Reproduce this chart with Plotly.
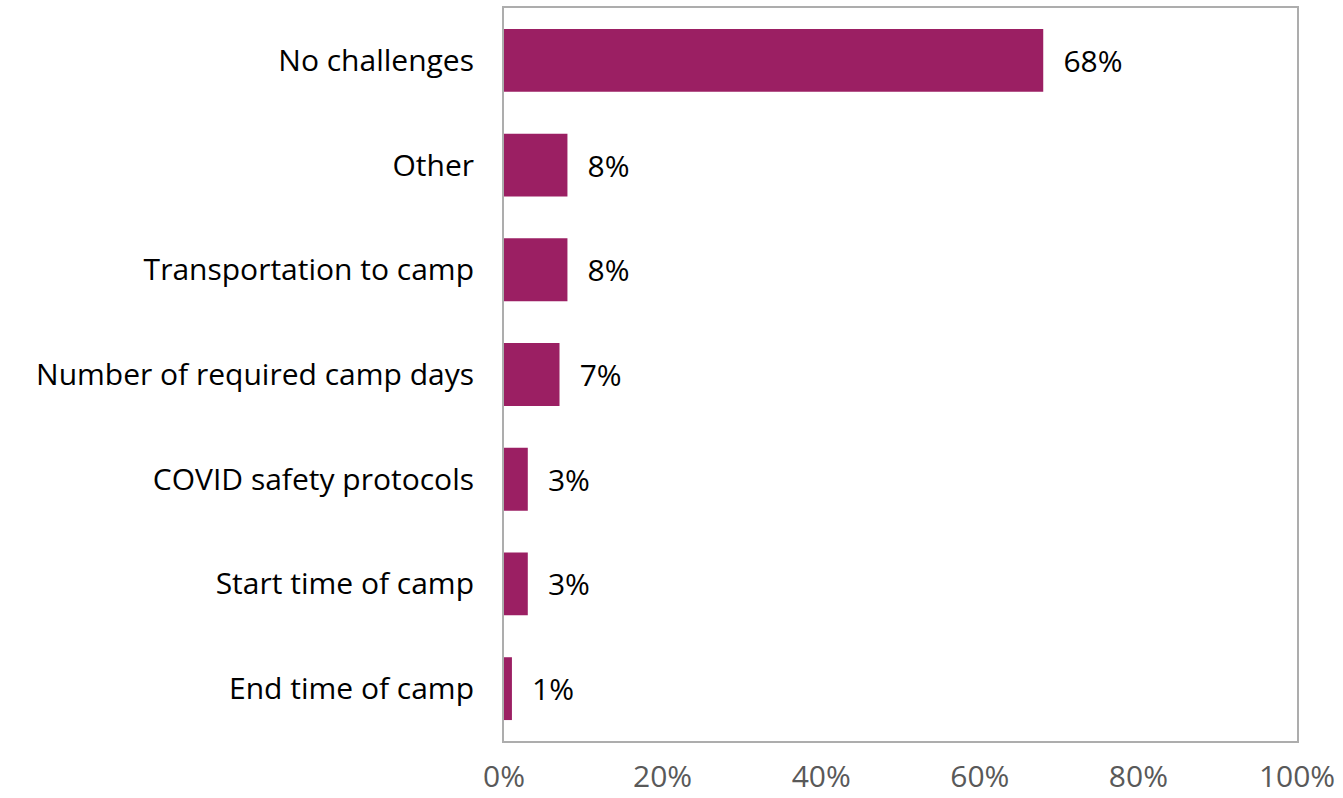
import plotly.graph_objects as go

# Reported challenges with camp participation (share of respondents)
categories = [
    "No challenges",
    "Other",
    "Transportation to camp",
    "Number of required camp days",
    "COVID safety protocols",
    "Start time of camp",
    "End time of camp",
]
values = [68, 8, 8, 7, 3, 3, 1]
tick_vals = [0, 20, 40, 60, 80, 100]
tick_text = ["0%", "20%", "40%", "60%", "80%", "100%"]

BAR_COLOR = "#9B1F63"
FONT = "Open Sans"
SIZE = 30

fig = go.Figure(
    go.Bar(
        x=values,
        y=categories,
        orientation="h",
        marker=dict(color=BAR_COLOR, line=dict(width=0)),
        width=0.6,
        text=[f"\u2007{v}%" for v in values],
        textposition="outside",
        cliponaxis=False,
        textfont=dict(family=FONT, size=SIZE, color="#000000"),
    )
)

fig.update_layout(
    width=1343,
    height=798,
    margin=dict(l=504, r=46, t=8, b=57),
    plot_bgcolor="white",
    paper_bgcolor="white",
    showlegend=False,
    font=dict(family=FONT, size=SIZE, color="#000000"),
)

fig.update_xaxes(
    range=[0, 100],
    tickvals=tick_vals,
    ticktext=tick_text,
    tickfont=dict(family=FONT, size=SIZE, color="#595959"),
    showgrid=False,
    zeroline=False,
    showline=True,
    linecolor="#ADADAD",
    linewidth=2,
    mirror=True,
    ticks="",
    ticklabelstandoff=8,
    automargin=False,
)

fig.update_yaxes(
    autorange="reversed",
    tickfont=dict(family=FONT, size=SIZE, color="#000000"),
    showgrid=False,
    zeroline=False,
    showline=True,
    linecolor="#ADADAD",
    linewidth=2,
    mirror=True,
    ticks="",
    ticklabelstandoff=22,
    automargin=False,
)

fig.write_html("out.html")
